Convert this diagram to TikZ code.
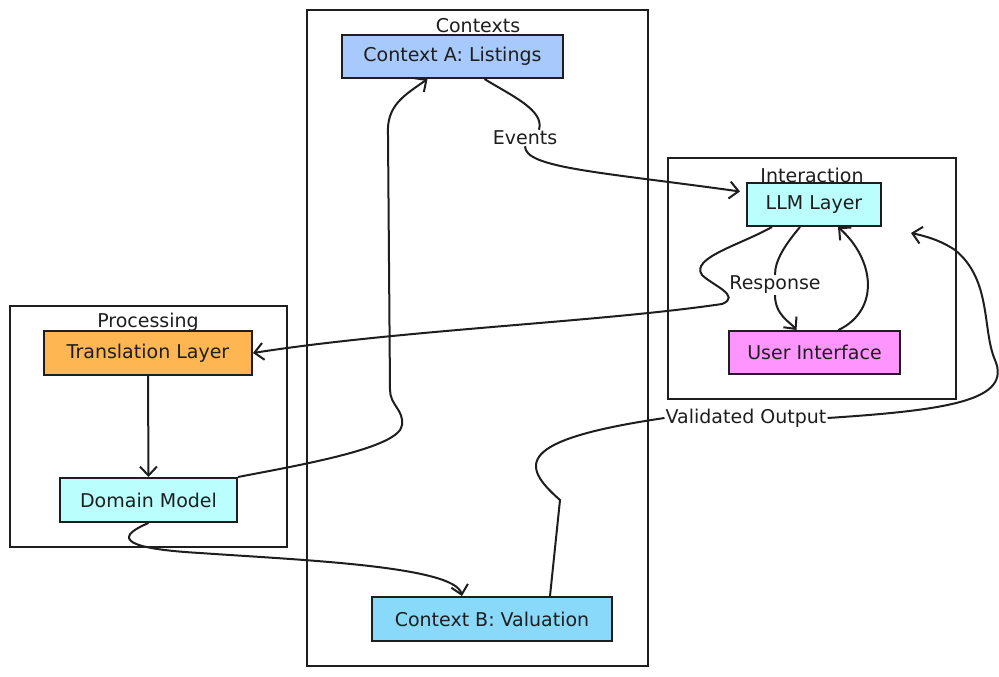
\documentclass[tikz,border=0pt]{standalone}
\usepackage{fontspec}
\setmainfont{DejaVu Sans}
\usetikzlibrary{arrows.meta}
\definecolor{ctxAfill}{RGB}{168,201,251}
\definecolor{ctxBfill}{RGB}{136,217,250}
\definecolor{llmfill}{RGB}{186,254,254}
\definecolor{uifill}{RGB}{254,148,254}
\definecolor{transfill}{RGB}{254,182,82}
\definecolor{inkline}{RGB}{30,30,30}
\tikzset{
  cluster/.style  = {draw=inkline, line width=2pt, fill=white, inner sep=0pt},
  title/.style    = {font=\fontsize{19}{21}\selectfont, text=inkline, inner sep=1pt},
  block/.style    = {draw=inkline, line width=2pt, fill=#1, inner sep=0pt,
                     font=\fontsize{19}{21}\selectfont, text=inkline},
  edge/.style     = {draw=inkline, line width=2pt},
  arrow/.style    = {edge, -{Straight Barb[length=9pt,width=17pt]}},
  edgelabel/.style= {fill=white, inner sep=1pt, text=inkline,
                     font=\fontsize{19}{21}\selectfont},
}

\begin{document}
\begin{tikzpicture}[x=1pt, y=-1pt]

  \useasboundingbox (0,0) rectangle (999,677);

  % ──────────────────────────────────────────────
  %  CLUSTERS
  % ──────────────────────────────────────────────
  \node[cluster, minimum width=341, minimum height=656] (contexts)    at (477.5,338) {};
  \node[cluster, minimum width=288, minimum height=241] (interaction) at (812,278.5) {};
  \node[cluster, minimum width=277, minimum height=241] (processing)  at (148.5,426.5) {};

  % cluster titles
  \node[title] (contextsT)    at (478,26)  {Contexts};
  \node[title] (interactionT) at (812,175) {Interaction};
  \node[title] (processingT)  at (148,322) {Processing};

  % ──────────────────────────────────────────────
  %  BLOCKS
  % ──────────────────────────────────────────────
  \node[block=ctxAfill,  minimum width=221, minimum height=43] (ctxA)  at (452.5,56.5) {Context A: Listings};
  \node[block=ctxBfill,  minimum width=240, minimum height=44] (ctxB)  at (492,619)    {Context B: Valuation};
  \node[block=llmfill,   minimum width=134, minimum height=43] (llm)   at (814,204.5)  {LLM Layer};
  \node[block=uifill,    minimum width=171, minimum height=43] (ui)    at (814.5,352.5) {User Interface};
  \node[block=transfill, minimum width=208, minimum height=44] (trans) at (148,353)    {Translation Layer};
  \node[block=llmfill,   minimum width=177, minimum height=44] (dom)   at (148.5,500)  {Domain Model};

  % edge labels
  \node[edgelabel] (evLbl)   at (525,138) {Events};
  \node[edgelabel] (respLbl) at (775,285) {Response};
  \node[edgelabel] (valLbl)  at (746,418) {Validated Output};

  % ──────────────────────────────────────────────
  %  CONNECTORS
  % ──────────────────────────────────────────────

  % Context A -> LLM Layer (Events)
  \draw[edge] ([xshift=32]ctxA.south) .. controls (510,95) and (545,110) .. ([xshift=14]evLbl.north);
  \draw[arrow] (evLbl.south) .. controls (525,168) and (600,172) .. ([xshift=-6,yshift=13]llm.west);

  % LLM Layer -> User Interface (Response)
  \draw[edge] ([xshift=-14]llm.south) .. controls (785,245) and (775,260) .. (respLbl.north);
  \draw[arrow] (respLbl.south) .. controls (775,315) and (790,322) .. ([xshift=-18]ui.north);

  % User Interface -> LLM Layer
  \draw[arrow] ([xshift=24]ui.north) .. controls (880,310) and (875,260) .. ([xshift=24]llm.south);

  % LLM Layer -> Translation Layer
  \draw[arrow] ([xshift=-42]llm.south) .. controls (740,245) and (690,258) .. (702,275)
    .. controls (712,285) and (742,296) .. (722,304)
    .. controls (600,322) and (400,330) .. (trans.east);

  % Translation Layer -> Domain Model
  \draw[arrow] (trans.south) -- (dom.north);

  % Domain Model -> Context A
  \draw[arrow] (dom.north east) .. controls (300,465) and (400,448) .. (402,425)
    .. controls (404,410) and (390,405) .. (390,390) -- (388,135)
    .. controls (386,105) and (405,95) .. ([xshift=-25]ctxA.south);

  % Domain Model -> Context B
  \draw[arrow] (dom.south) .. controls (120,535) and (112,548) .. (200,553)
    .. controls (300,560) and (455,566) .. ([xshift=-30]ctxB.north);

  % Context B -> LLM Layer (Validated Output)
  \draw[edge] ([xshift=58]ctxB.north) -- (560,500)
    .. controls (520,465) and (515,440) .. (valLbl.west);
  \draw[arrow] (valLbl.east) .. controls (950,410) and (1012,400) .. (995,360)
    .. controls (982,330) and (992,280) .. (955,250)
    .. controls (940,240) and (925,236) .. ([xshift=29,yshift=-6]llm.south east);

\end{tikzpicture}
\end{document}
